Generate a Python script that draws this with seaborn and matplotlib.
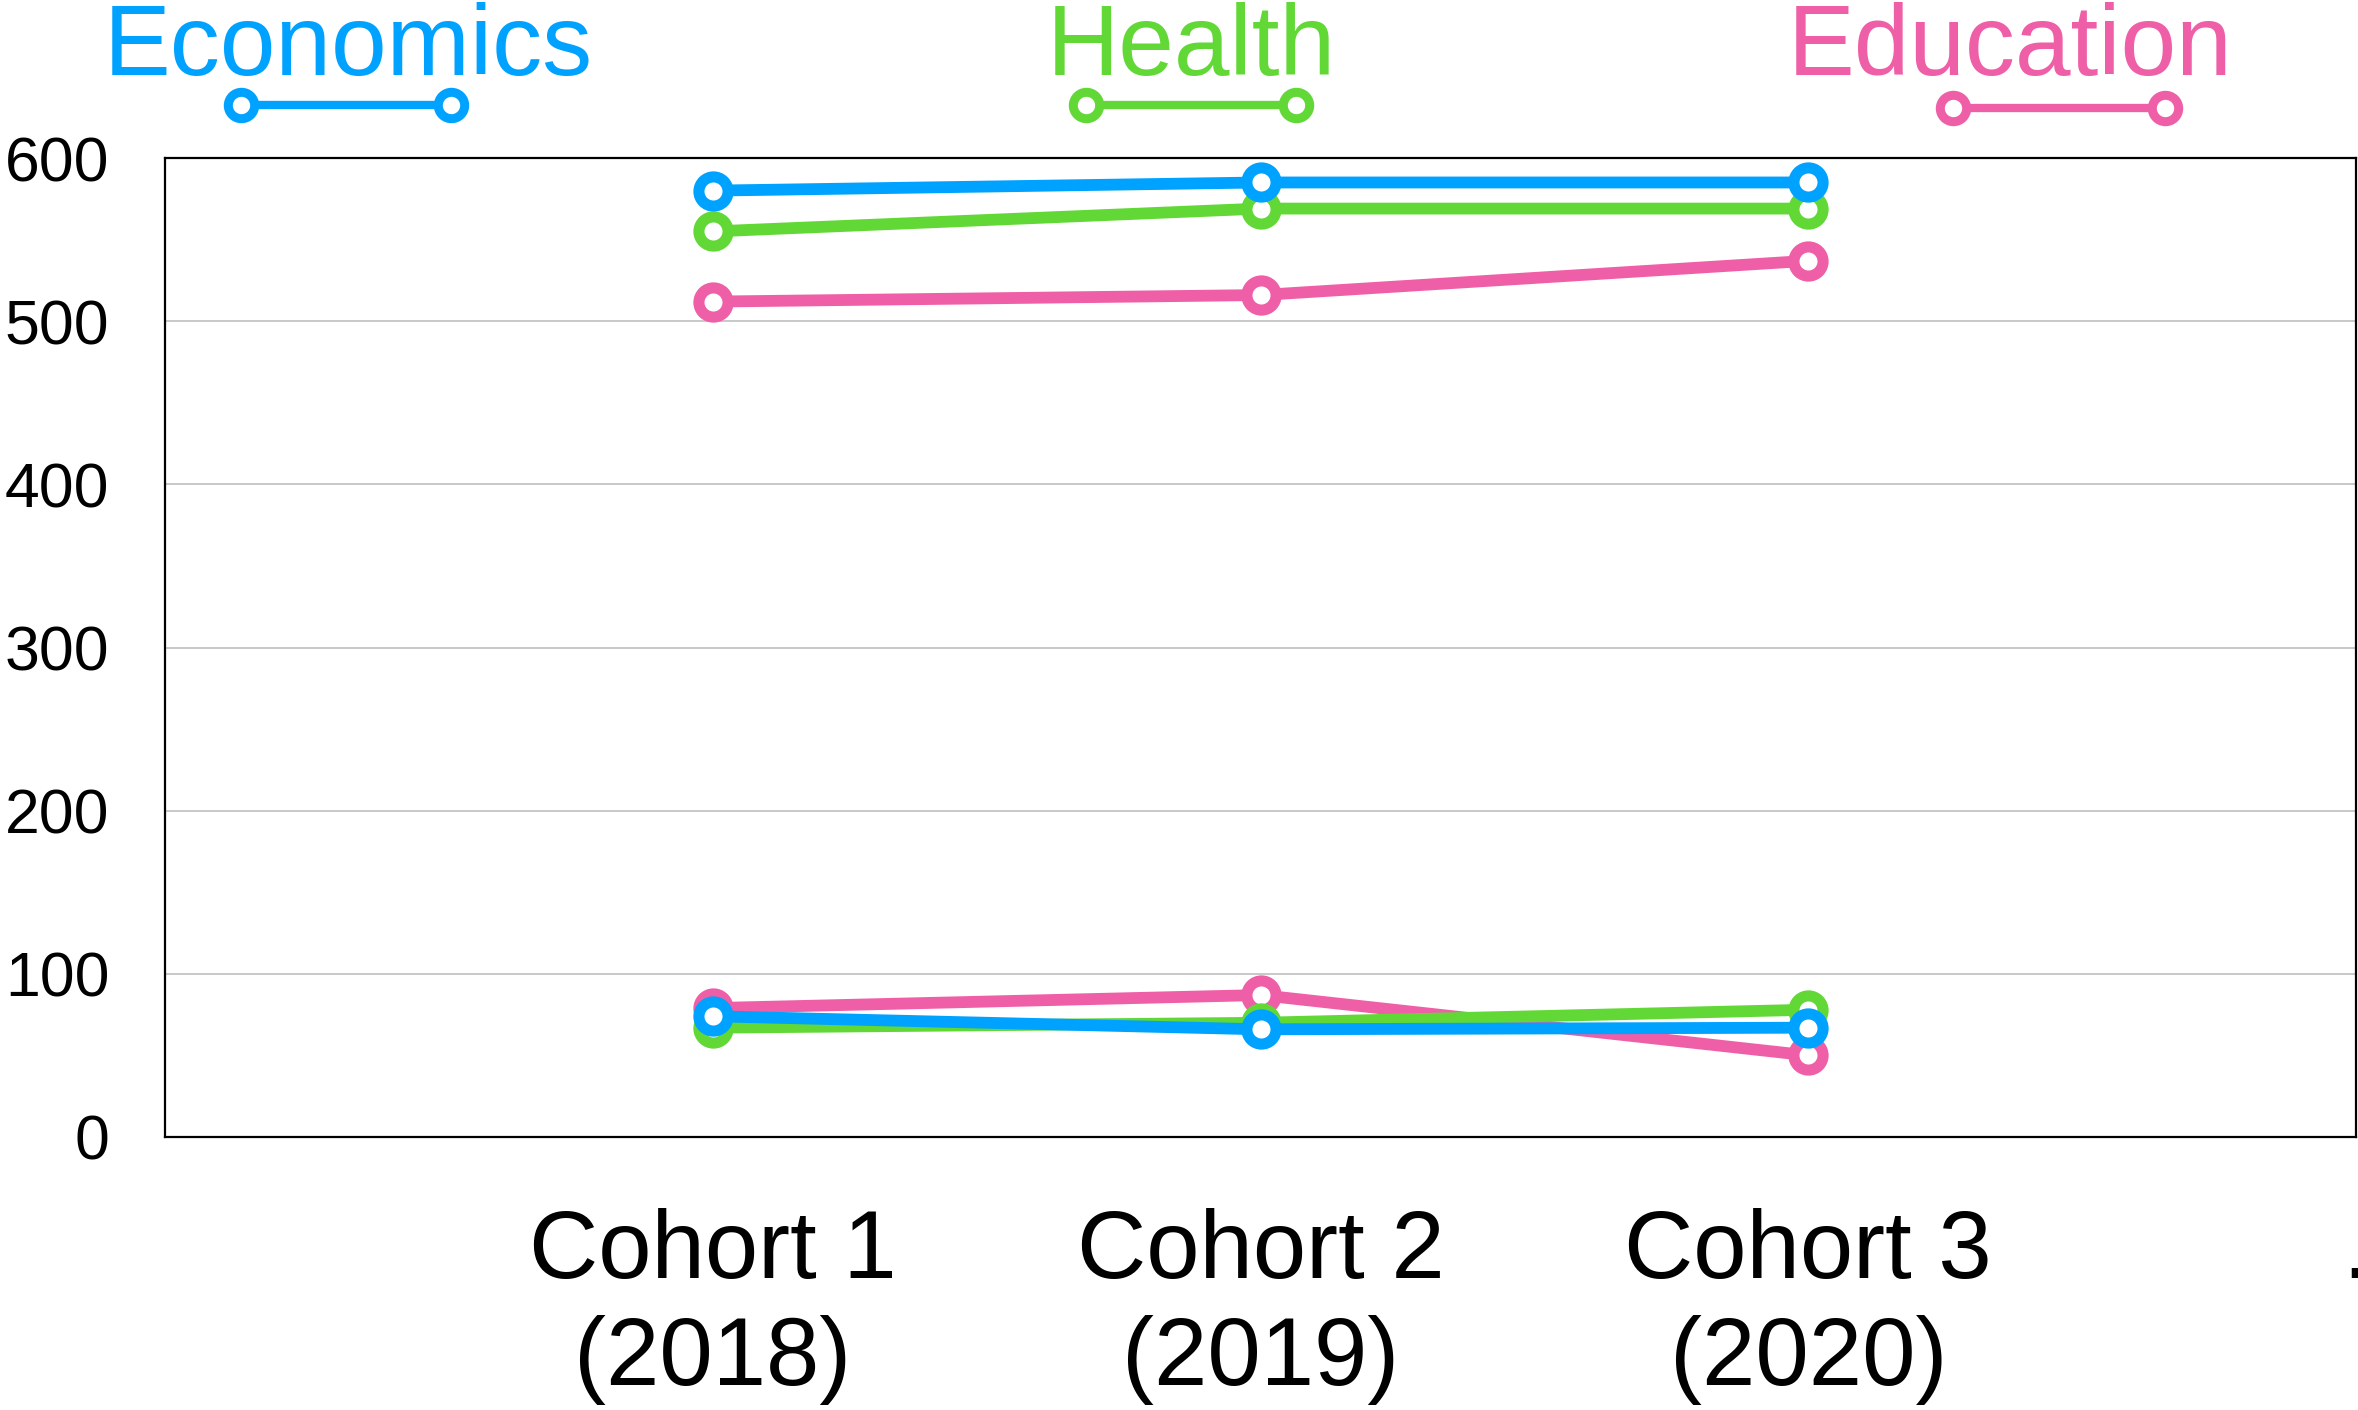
import numpy as np
import pandas as pd
import matplotlib
matplotlib.use("Agg")
import matplotlib.pyplot as plt
import seaborn as sns
from matplotlib.lines import Line2D

# Category labels along the x axis (the last slot is a trailing placeholder tick)
cohort_labels = ["Cohort 1\n(2018)", "Cohort 2\n(2019)", "Cohort 3\n(2020)"]
trailing_label = "."

fields = ["Economics", "Health", "Education"]
colors = {"Economics": "#00A2FF", "Health": "#61D836", "Education": "#EF5FA7"}

# Upper band values per cohort
economics_upper = [580, 585, 585]
health_upper = [555, 569, 569]
education_upper = [512, 516, 537]

# Lower band values per cohort
economics_lower = [74, 66, 67]
health_lower = [67, 70, 78]
education_lower = [79, 87, 50]

series = {
    ("Economics", "upper"): economics_upper,
    ("Economics", "lower"): economics_lower,
    ("Health", "upper"): health_upper,
    ("Health", "lower"): health_lower,
    ("Education", "upper"): education_upper,
    ("Education", "lower"): education_lower,
}

rows = []
for (field, band), vals in series.items():
    for i, v in enumerate(vals):
        rows.append({"pos": i + 1, "field": field, "band": band, "value": v})
df = pd.DataFrame(rows)

sns.set_theme(style="white")
plt.rcParams["font.family"] = ["Liberation Sans", "DejaVu Sans"]

W, H = 2358, 1410
fig = plt.figure(figsize=(W / 100, H / 100), dpi=100)
ax = fig.add_axes([165 / W, 1 - 1137 / H, (2356 - 165) / W, (1137 - 158) / H])

ax.yaxis.grid(True, color="#c8c8c8", lw=1.4)
ax.set_axisbelow(True)

sns.lineplot(
    data=df, x="pos", y="value", hue="field", units="band", estimator=None,
    hue_order=["Education", "Health", "Economics"], palette=colors,
    lw=8.5, marker="o", markersize=21, markerfacecolor="white",
    markeredgewidth=8, legend=False, sort=False, ax=ax,
)
for ln in ax.lines:
    ln.set_markeredgecolor(ln.get_color())
    ln.set_markerfacecolor("white")
    ln.set_clip_on(False)

ax.set_xlim(0, 4)
ax.set_ylim(0, 600)
ax.set_xticks([1, 2, 3, 4])
ax.set_xticklabels(cohort_labels + [trailing_label], linespacing=1.25)
ax.set_yticks(np.arange(0, 601, 100))
ax.set_xlabel("")
ax.set_ylabel("")
ax.tick_params(axis="x", length=0, pad=51, labelsize=69, colors="black")
ax.tick_params(axis="y", length=0, pad=40, labelsize=45, colors="black")

for sp in ax.spines.values():
    sp.set_visible(True)
    sp.set_color("black")
    sp.set_linewidth(1.6)

# Legend: coloured name with a sample line beneath it
legend_layout = [
    ("Economics", 348, 241, 451, 105),
    ("Health", 1191, 1086, 1296, 105),
    ("Education", 2010, 1953, 2165, 108),
]
for name, tx, x0, x1, ly in legend_layout:
    c = colors[name]
    fig.text(tx / W, 1 - 75 / H, name, ha="center", va="baseline",
             color=c, fontsize=72)
    fig.add_artist(Line2D([x0 / W, x1 / W], [1 - ly / H, 1 - ly / H],
                          transform=fig.transFigure, color=c, lw=6,
                          marker="o", markersize=19, markerfacecolor="white",
                          markeredgecolor=c, markeredgewidth=6.5))

fig.savefig("out.png", dpi=100)
